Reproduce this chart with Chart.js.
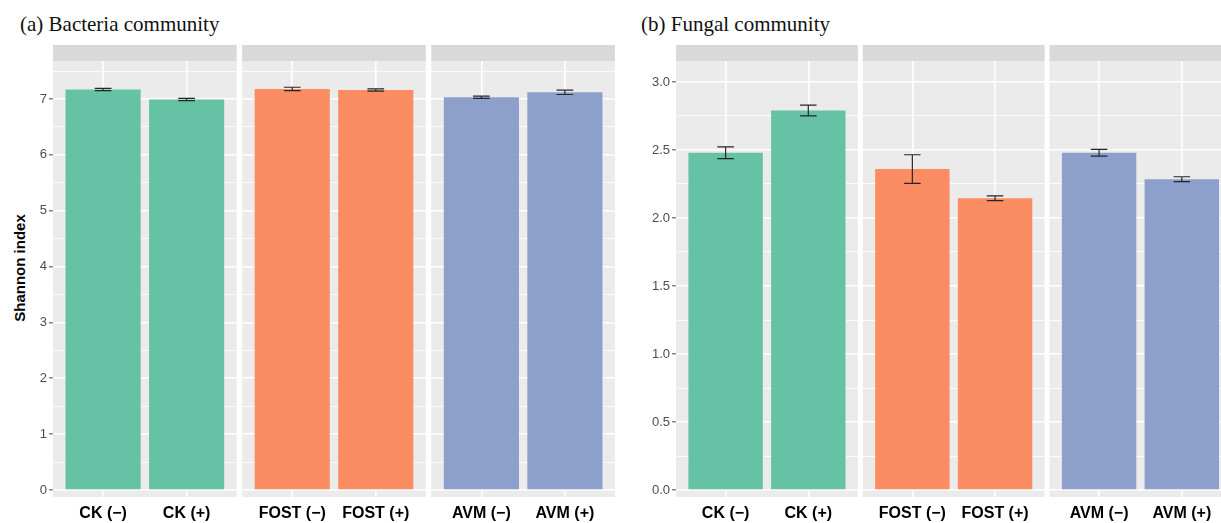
<!DOCTYPE html>
<html>
<head>
<meta charset="utf-8">
<script src="https://cdn.jsdelivr.net/npm/chart.js@4.4.1/dist/chart.umd.min.js"></script>
<style>
  html, body { margin: 0; padding: 0; background: #ffffff; overflow: hidden; width: 1221px; height: 523px; }
  .panel { position: absolute; top: 0; height: 523px; }
  .ptitle { position: absolute; top: 14px; font-family: 'Liberation Serif', 'Times New Roman', serif; font-size: 21px; line-height: 21px; color: #111; white-space: nowrap; }
  .ytitle { position: absolute; left: 18.5px; top: 268px; transform: translate(-50%, -50%) rotate(-90deg); font-family: 'Liberation Sans', Arial, sans-serif; font-weight: bold; font-size: 15px; line-height: 15px; color: #000; white-space: nowrap; }
</style>
</head>
<body>
<div class="ptitle" style="left:20px">(a) Bacteria community</div>
<div class="ptitle" style="left:641px">(b) Fungal community</div>
<div class="ytitle">Shannon index</div>
<div class="panel" style="left:0; width:622px"><canvas id="chartA"></canvas></div>
<div class="panel" style="left:622px; width:599px"><canvas id="chartB"></canvas></div>

<script>
// Treatments, two per facet (CK, FOST, AVM)
const groups = ['CK', 'FOST', 'AVM'];
const categories = ['CK (−)', 'CK (+)', 'FOST (−)', 'FOST (+)', 'AVM (−)', 'AVM (+)'];
const groupColors = ['#66C2A5', '#FC8D62', '#8DA0CB'];

// Shannon index, mean and error per treatment
const bacteriaMean = [7.17, 6.99, 7.18, 7.16, 7.03, 7.12];
const bacteriaErr  = [0.02, 0.02, 0.03, 0.02, 0.02, 0.04];
const fungalMean   = [2.48, 2.79, 2.36, 2.145, 2.48, 2.285];
const fungalErr    = [0.043, 0.04, 0.105, 0.017, 0.025, 0.018];

// Labelled y ticks
const bacteriaTicks = [0, 1, 2, 3, 4, 5, 6, 7];
const fungalTicks   = [0.0, 0.5, 1.0, 1.5, 2.0, 2.5, 3.0];

const SANS = "'Liberation Sans', Arial, sans-serif";
const FACET_WIDTH = 2.2;          // discrete axis range 0.4 .. 2.6 per facet
const STRIP_HEIGHT = 16;

function buildPanel(canvasId, means, errs, cfg) {
  const stride = FACET_WIDTH + cfg.facetGap;
  const barX = categories.map((_, i) => Math.floor(i / 2) * stride + (i % 2) + 1);
  const colors = categories.map((_, i) => groupColors[Math.floor(i / 2)]);

  // major ticks plus the midpoints between them for the thin grid
  const step = cfg.ticks[1] - cfg.ticks[0];
  const allTicks = [];
  cfg.ticks.forEach(v => {
    allTicks.push(v);
    if (v + step / 2 <= cfg.yMax) allTicks.push(v + step / 2);
  });
  const isMajor = v => cfg.ticks.some(t => Math.abs(t - v) < 1e-9);

  const facetPlugin = {
    id: 'facets',
    beforeDraw(chart) {
      const { ctx, chartArea } = chart;
      const xs = chart.scales.x;
      ctx.save();
      groups.forEach((g, k) => {
        const x0 = Math.max(chartArea.left, xs.getPixelForValue(k * stride + 0.4));
        const x1 = Math.min(chartArea.right, xs.getPixelForValue(k * stride + 2.6));
        ctx.fillStyle = '#EBEBEB';
        ctx.fillRect(x0, chartArea.top, x1 - x0, chartArea.bottom - chartArea.top);
        ctx.fillStyle = '#D9D9D9';
        ctx.fillRect(x0, chartArea.top - STRIP_HEIGHT, x1 - x0, STRIP_HEIGHT);
      });
      ctx.restore();
    }
  };

  const errorBarPlugin = {
    id: 'errorBars',
    afterDatasetsDraw(chart) {
      const { ctx } = chart;
      const xs = chart.scales.x, ys = chart.scales.y;
      ctx.save();
      ctx.strokeStyle = '#262626';
      ctx.lineWidth = 1.2;
      means.forEach((m, i) => {
        const xc = xs.getPixelForValue(barX[i]);
        const xl = xs.getPixelForValue(barX[i] - 0.1);
        const xr = xs.getPixelForValue(barX[i] + 0.1);
        const yt = ys.getPixelForValue(m + errs[i]);
        const yb = ys.getPixelForValue(m - errs[i]);
        ctx.beginPath();
        ctx.moveTo(xl, yt); ctx.lineTo(xr, yt);
        ctx.moveTo(xl, yb); ctx.lineTo(xr, yb);
        ctx.moveTo(xc, yt); ctx.lineTo(xc, yb);
        ctx.stroke();
      });
      ctx.restore();
    }
  };

  return new Chart(document.getElementById(canvasId), {
    type: 'bar',
    data: {
      datasets: [{
        data: means.map((m, i) => ({ x: barX[i], y: m })),
        backgroundColor: colors,
        borderWidth: 0,
        barPercentage: 0.9,
        categoryPercentage: 1.0
      }]
    },
    options: {
      responsive: true,
      maintainAspectRatio: false,
      animation: false,
      events: [],
      layout: { padding: { top: 61, left: 0, right: cfg.padRight, bottom: 0 } },
      plugins: { legend: { display: false }, tooltip: { enabled: false }, title: { display: false } },
      scales: {
        x: {
          type: 'linear',
          min: 0.4,
          max: cfg.xMax,
          offset: false,
          afterBuildTicks: s => { s.ticks = barX.map(v => ({ value: v })); },
          afterFit: s => { s.height = 26; },
          grid: { offset: false, color: '#FFFFFF', lineWidth: 1.6, drawTicks: false },
          border: { display: false },
          ticks: {
            autoSkip: false, maxRotation: 0, padding: 7,
            color: '#000000',
            font: { family: SANS, size: 16, weight: 'bold' },
            callback: (v, i) => categories[i]
          }
        },
        y: {
          type: 'linear',
          min: cfg.yMin,
          max: cfg.yMax,
          afterBuildTicks: s => { s.ticks = allTicks.map(v => ({ value: v })); },
          afterFit: s => { s.width = cfg.yAxisWidth; },
          grid: {
            color: '#FFFFFF',
            lineWidth: c => isMajor(c.tick.value) ? 1.6 : 0.8,
            drawTicks: true,
            tickLength: 4,
            tickWidth: 1,
            tickColor: c => isMajor(c.tick.value) ? '#4D4D4D' : 'rgba(0,0,0,0)'
          },
          border: { display: false },
          ticks: {
            autoSkip: false, padding: 2,
            color: '#4D4D4D',
            font: { family: SANS, size: 13 },
            callback: v => isMajor(v) ? cfg.fmt(v) : ''
          }
        }
      }
    },
    plugins: [facetPlugin, errorBarPlugin]
  });
}

buildPanel('chartA', bacteriaMean, bacteriaErr, {
  ticks: bacteriaTicks, fmt: v => String(Math.round(v)),
  yMin: -0.125, yMax: 7.68, xMax: 7.13, facetGap: 0.065,
  yAxisWidth: 53, padRight: 7
});

buildPanel('chartB', fungalMean, fungalErr, {
  ticks: fungalTicks, fmt: v => v.toFixed(1),
  yMin: -0.051, yMax: 3.154, xMax: 6.99, facetGap: 0.058,
  yAxisWidth: 54, padRight: 0
});
</script>
</body>
</html>
